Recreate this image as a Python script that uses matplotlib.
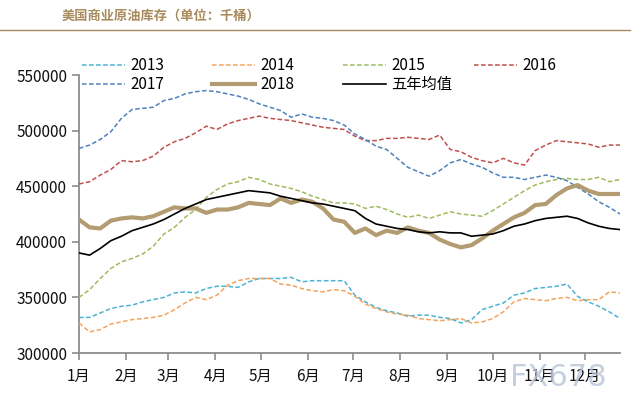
"""US commercial crude inventory by week, 2013-2018 plus five-year mean."""
import numpy as np
import matplotlib
matplotlib.use("Agg")
import matplotlib.pyplot as plt
from matplotlib.lines import Line2D

plt.rcParams["font.family"] = ["Noto Sans CJK SC", "DejaVu Sans"]

# weekly inventory, thousand barrels
inv_2013 = [332, 332, 336, 340, 342, 343, 346, 348, 350, 354, 355, 354, 358, 360,
            360, 359, 364, 367, 367, 367, 368, 364, 365, 365, 365, 365, 352, 346,
            341, 338, 336, 333, 334, 334, 332, 331, 327, 330, 339, 342, 345, 352,
            354, 358, 359, 360, 362, 351, 346, 342, 337, 331]
inv_2014 = [327, 319, 321, 326, 328, 330, 331, 332, 334, 339, 345, 350, 348, 352,
            361, 365, 367, 367, 367, 362, 361, 358, 356, 355, 357, 356, 351, 344,
            340, 337, 335, 334, 331, 330, 329, 330, 331, 327, 328, 331, 337, 346,
            349, 348, 347, 349, 350, 347, 348, 348, 355, 354]
inv_2015 = [350, 357, 367, 376, 382, 385, 389, 396, 407, 413, 422, 429, 440, 447,
            452, 454, 458, 456, 452, 450, 448, 445, 441, 438, 435, 435, 434, 430,
            432, 429, 425, 422, 424, 421, 424, 427, 425, 424, 423, 428, 434, 440,
            446, 451, 454, 456, 457, 456, 456, 458, 454, 456]
inv_2016 = [452, 454, 460, 465, 473, 472, 473, 477, 485, 490, 493, 498, 504, 501,
            506, 509, 511, 513, 511, 510, 509, 507, 505, 503, 502, 501, 495, 491,
            491, 493, 493, 494, 493, 492, 496, 483, 481, 476, 473, 471, 475, 471,
            469, 482, 487, 491, 490, 489, 488, 485, 487, 487]
inv_2017 = [484, 487, 492, 499, 511, 519, 520, 521, 527, 529, 533, 535, 536, 535,
            533, 531, 528, 524, 521, 518, 512, 515, 512, 511, 509, 505, 497, 492,
            486, 483, 475, 467, 463, 459, 464, 471, 474, 470, 467, 462, 458, 458,
            456, 458, 460, 458, 455, 449, 443, 436, 431, 425]
inv_2018 = [420, 413, 412, 419, 421, 422, 421, 423, 427, 431, 430, 430, 426, 429,
            429, 431, 435, 434, 433, 439, 435, 438, 436, 430, 420, 418, 408, 412,
            406, 410, 408, 413, 410, 408, 402, 398, 395, 397, 403, 410, 416, 422,
            426, 433, 434, 442, 448, 451, 446, 443, 443, 443]
inv_5yr = [390, 388, 394, 401, 405, 410, 413, 416, 420, 425, 430, 434, 438, 440,
           442, 444, 446, 445, 444, 441, 439, 437, 435, 434, 432, 430, 428, 421,
           416, 414, 412, 411, 409, 408, 409, 408, 408, 405, 406, 407, 410, 414,
           416, 419, 421, 422, 423, 421, 417, 414, 412, 411]

series_labels = ["2013", "2014", "2015", "2016", "2017", "2018", "五年均值"]
month_labels = [f"{m}月" for m in range(1, 13)]
month_days = [31, 28, 31, 30, 31, 30, 31, 31, 30, 31, 30, 31]

COLORS = {
    "2013": "#4bb3d4",
    "2014": "#f2a45c",
    "2015": "#9fbb5e",
    "2016": "#c0504d",
    "2017": "#4f81bd",
    "2018": "#b39b72",
    "五年均值": "#000000",
    "title": "#a88a5c",
    "axis": "#8c8c8c",
}


def main():
    fig = plt.figure(figsize=(6.4, 4.0), dpi=100)
    ax = fig.add_axes([79 / 640, 47 / 400, 541 / 640, 278 / 400])

    weeks = np.arange(len(inv_2018))
    data = [inv_2013, inv_2014, inv_2015, inv_2016, inv_2017, inv_2018, inv_5yr]

    lines = {}
    for label, vals in zip(series_labels, data):
        y = np.array(vals) * 1000
        if label == "2018":
            (ln,) = ax.plot(weeks, y, color=COLORS[label], lw=3, zorder=4)
        elif label == "五年均值":
            (ln,) = ax.plot(weeks, y, color=COLORS[label], lw=1.2, zorder=5)
        else:
            (ln,) = ax.plot(weeks, y, color=COLORS[label], lw=1.1,
                            dashes=(3, 1.6), zorder=3)
        lines[label] = ln

    ax.set_xlim(0, len(weeks) - 1)
    ax.set_ylim(300000, 550000)
    ax.set_yticks(np.arange(300000, 550001, 50000))
    ax.set_yticklabels([f"{v:d}" for v in range(300000, 550001, 50000)])

    starts = np.concatenate([[0], np.cumsum(month_days)[:-1]]) / 7.0
    ax.set_xticks(starts)
    ax.set_xticklabels(month_labels)

    for side in ["top", "right"]:
        ax.spines[side].set_visible(False)
    for side in ["left", "bottom"]:
        ax.spines[side].set_color(COLORS["axis"])
        ax.spines[side].set_linewidth(1.3)
    ax.tick_params(axis="both", direction="out", length=5, width=1.2,
                   color=COLORS["axis"], labelsize=11, labelcolor="#111111")
    ax.tick_params(axis="x", pad=6)

    # legend: Excel-style fixed-width columns, one small legend per column
    columns = [["2013", "2017"], ["2014", "2018"], ["2015", "五年均值"], ["2016"]]
    col_x = [82, 212, 343, 474]
    for keys, x0 in zip(columns, col_x):
        fig.legend(
            [lines[k] for k in keys],
            keys,
            loc="upper left",
            bbox_to_anchor=(x0 / 640, 1 - 57 / 400),
            frameon=False,
            fontsize=11,
            handlelength=2.8,
            handletextpad=0.35,
            labelspacing=0.15,
            borderpad=0,
            borderaxespad=0,
        )

    # header
    fig.text(62 / 640, 1 - 16 / 400, "美国商业原油库存（单位：千桶）",
             fontsize=9.5, color=COLORS["title"], fontweight="bold", va="center")
    fig.add_artist(Line2D([0, 630 / 640], [1 - 30 / 400, 1 - 30 / 400],
                          color=COLORS["title"], lw=1.0, transform=fig.transFigure))

    # watermark
    fig.text(510 / 640, 1 - 377 / 400, "FX678", fontsize=22, color="#b8c4d8",
             alpha=0.8, va="center", family="DejaVu Sans")

    fig.savefig("out.png", dpi=100)


if __name__ == "__main__":
    main()
